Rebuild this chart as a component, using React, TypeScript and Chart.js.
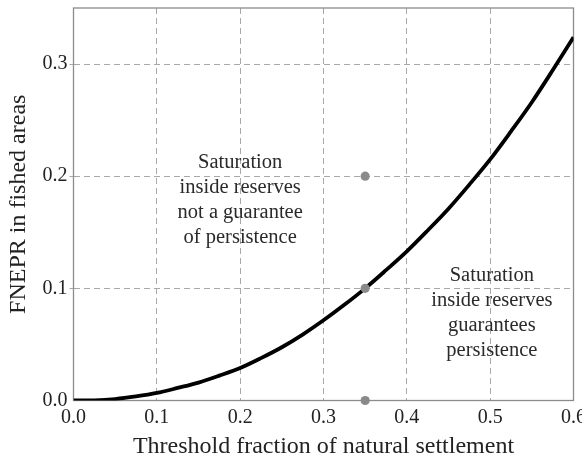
import { useEffect, useRef } from "react";
import { Chart, registerables } from "chart.js";

Chart.register(...registerables);

// Threshold fraction of natural settlement (x) and FNEPR in fished areas (y)
const thresholdX = [0, 0.025, 0.05, 0.075, 0.1, 0.125, 0.15, 0.175, 0.2, 0.225, 0.25, 0.275, 0.3, 0.325, 0.35, 0.375, 0.4, 0.425, 0.45, 0.475, 0.5, 0.525, 0.55, 0.575, 0.6];
const fneprY = [0, 0.0002, 0.0013, 0.0036, 0.0067, 0.0112, 0.016, 0.0222, 0.029, 0.0378, 0.0475, 0.0588, 0.0715, 0.0853, 0.1, 0.1162, 0.133, 0.1516, 0.171, 0.1925, 0.215, 0.24, 0.266, 0.2945, 0.324];

// grey marker points
const markerX = [0.35, 0.35, 0.35];
const markerY = [0, 0.1, 0.2];

// axis ticks
const xTickValues = [0, 0.1, 0.2, 0.3, 0.4, 0.5, 0.6];
const yTickValues = [0, 0.1, 0.2, 0.3];

// annotations (anchor in data coordinates)
const leftNote = ["Saturation", "inside reserves", "not a guarantee", "of persistence"];
const leftNoteAt = [0.2, 0.179];
const rightNote = ["Saturation", "inside reserves", "guarantees", "persistence"];
const rightNoteAt = [0.502, 0.078];

const FONT = "'Liberation Serif', 'Times New Roman', serif";

const framePlugin = {
  id: "frameAndNotes",
  beforeDatasetsDraw(chart: any) {
    const { ctx, chartArea } = chart;
    ctx.save();
    ctx.strokeStyle = "#8c8c8c";
    ctx.lineWidth = 1.3;
    ctx.setLineDash([]);
    ctx.strokeRect(chartArea.left, chartArea.top, chartArea.right - chartArea.left, chartArea.bottom - chartArea.top);
    ctx.restore();
  },
  afterDatasetsDraw(chart: any) {
    const { ctx } = chart;
    const xs = chart.scales.x;
    const ys = chart.scales.y;
    const drawNote = (lines: string[], at: number[]) => {
      const cx = xs.getPixelForValue(at[0]);
      const cy = ys.getPixelForValue(at[1]);
      const lh = 25;
      ctx.save();
      ctx.fillStyle = "#2a2a2a";
      ctx.font = `20.5px ${FONT}`;
      ctx.textAlign = "center";
      ctx.textBaseline = "middle";
      lines.forEach((t, i) => {
        ctx.fillText(t, cx, cy + (i - (lines.length - 1) / 2) * lh);
      });
      ctx.restore();
    };
    drawNote(leftNote, leftNoteAt);
    drawNote(rightNote, rightNoteAt);
  },
};

export default function App() {
  const ref = useRef<HTMLCanvasElement | null>(null);

  useEffect(() => {
    document.body.style.margin = "0";
    const canvas = ref.current;
    if (!canvas) return;
    const gridColor = (c: any) => {
      const v = c.tick ? c.tick.value : null;
      if (v === 0 || (c.scale && v === c.scale.max)) return "rgba(0,0,0,0)";
      return "#a8a8a8";
    };
    const chart = new Chart(canvas, {
      type: "scatter",
      data: {
        datasets: [
          {
            type: "line",
            data: thresholdX.map((x, i) => ({ x, y: fneprY[i] })),
            borderColor: "#000",
            borderWidth: 3.8,
            pointRadius: 0,
            cubicInterpolationMode: "monotone",
            fill: false,
            order: 2,
          } as any,
          {
            type: "scatter",
            data: markerX.map((x, i) => ({ x, y: markerY[i] })),
            backgroundColor: "#8a8a8a",
            borderColor: "#8a8a8a",
            pointRadius: 4.6,
            borderWidth: 0,
            clip: false,
            order: 1,
          } as any,
        ],
      },
      options: {
        animation: false,
        responsive: false,
        devicePixelRatio: 1,
        layout: { padding: { top: 8, right: 8.5, left: 0, bottom: 0 } },
        plugins: { legend: { display: false }, tooltip: { enabled: false } },
        scales: {
          x: {
            type: "linear",
            min: 0,
            max: 0.6,
            afterBuildTicks: (s: any) => {
              s.ticks = xTickValues.map((v) => ({ value: v }));
            },
            afterFit: (s: any) => {
              s.height = 58.5;
              s.paddingLeft = 0;
              s.paddingRight = 0;
            },
            ticks: {
              color: "#222",
              font: { family: FONT, size: 20 },
              padding: 5,
              maxRotation: 0,
              autoSkip: false,
              callback: (v: any) => Number(v).toFixed(1),
            },
            grid: { color: gridColor, lineWidth: 1, drawTicks: false },
            border: { display: false, dash: [6, 4] },
            title: {
              display: true,
              text: "Threshold fraction of natural settlement",
              color: "#222",
              font: { family: FONT, size: 24, lineHeight: 1 },
              padding: { top: 0, bottom: 0 },
            },
          },
          y: {
            type: "linear",
            min: 0,
            max: 0.35,
            afterBuildTicks: (s: any) => {
              s.ticks = yTickValues.map((v) => ({ value: v }));
            },
            afterFit: (s: any) => {
              s.width = 73.5;
              s.paddingTop = 0;
              s.paddingBottom = 0;
            },
            ticks: {
              color: "#222",
              font: { family: FONT, size: 20 },
              padding: 2,
              autoSkip: false,
              callback: (v: any) => Number(v).toFixed(1),
            },
            grid: { color: gridColor, lineWidth: 1, drawTicks: true, tickLength: 4 },
            border: { display: false, dash: [6, 4] },
            title: {
              display: true,
              text: "FNEPR in fished areas",
              color: "#222",
              font: { family: FONT, size: 24, lineHeight: 1 },
              padding: { top: 7, bottom: 0 },
            },
          },
        },
      } as any,
      plugins: [framePlugin],
    });
    return () => chart.destroy();
  }, []);

  return (
    <div style={{ width: 582, height: 459 }}>
      <canvas ref={ref} width={582} height={459} style={{ display: "block" }} />
    </div>
  );
}
